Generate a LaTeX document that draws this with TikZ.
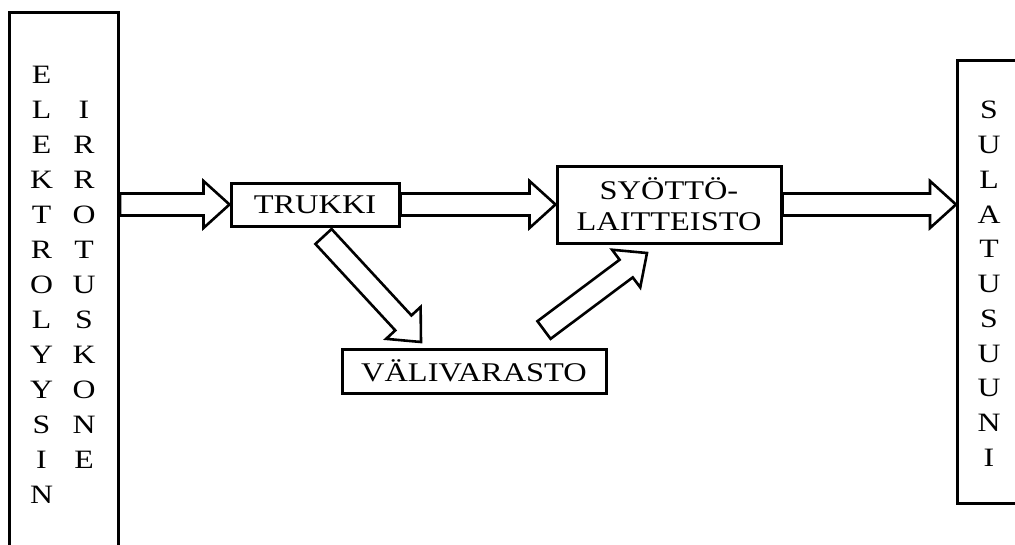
\documentclass[tikz,border=0pt]{standalone}
\usepackage{fontspec}
\setmainfont{Liberation Serif}[FakeStretch=1.2]
\usetikzlibrary{calc}
\begin{document}
\begin{tikzpicture}[x=1pt,y=-1pt,
  box/.style={draw, line width=3pt, inner sep=0pt, align=center,
    font=\fontsize{27}{31}\selectfont},
  letter/.style={inner sep=0pt, font=\fontsize{26.5}{30}\selectfont},
  blockarrow/.style={draw, line width=2.6pt, fill=white, line join=miter,
    to path={let \p1=(\tikztostart), \p2=(\tikztotarget),
      \n1={atan2(\y2-\y1,\x2-\x1)}, \n2={veclen(\x2-\x1,\y2-\y1)} in
      {[shift={(\p1)}, rotate=\n1]
       (0pt,-11pt) -- ({\n2-26pt},-11pt) -- ({\n2-26pt},-23.5pt)
       -- ({\n2},0pt) -- ({\n2-26pt},23.5pt) -- ({\n2-26pt},11pt)
       -- (0pt,11pt) -- cycle}}}]
\useasboundingbox (0,0) rectangle (1015,544);
\fill[white] (0,0) rectangle (1015,544);
\clip (0,0) rectangle (1015,544);

% left tall box
\node[box, minimum width=109pt, minimum height=560pt, anchor=north west] (lbox) at (8,11) {};
\foreach \t [count=\i from 0] in {E,L,E,K,T,R,O,L,Y,Y,S,I,N}
  \node[letter] (ea\i) at (41.5,{75+35*\i}) {\t};
\foreach \t [count=\i from 1] in {I,R,R,O,T,U,S,K,O,N,E}
  \node[letter] (eb\i) at (84,{75+35*\i}) {\t};

% right tall box
\node[box, minimum width=110pt, minimum height=443pt, anchor=north west] (rbox) at (956,59) {};
\foreach \t [count=\i from 0] in {S,U,L,A,T,U,S,U,U,N,I}
  \node[letter] (sa\i) at (989,{110+34.8*\i}) {\t};

% middle boxes
\node[box, minimum width=168pt, minimum height=43pt] (trukki) at (315,204.5) {TRUKKI};
\node[box, minimum width=224pt, minimum height=77pt] (syotto) at (669,204.5) {SYÖTTÖ-\\LAITTEISTO};
\node[box, minimum width=264pt, minimum height=44pt] (vali) at (474,371) {VÄLIVARASTO};

% connectors
\coordinate (a1s) at (lbox.east |- trukki.west);
\coordinate (a3t) at (rbox.west |- syotto.east);
\coordinate (a4s) at (323.5,236.5);
\coordinate (a4t) at (421,342);
\coordinate (a5s) at (544,330);
\coordinate (a5t) at (647,253);

\draw[blockarrow] (a1s) to (trukki.west);
\draw[blockarrow] (trukki.east) to (syotto.west);
\draw[blockarrow] (syotto.east) to (a3t);
\draw[blockarrow] (a4s) to (a4t);
\draw[blockarrow] (a5s) to (a5t);
\end{tikzpicture}
\end{document}
